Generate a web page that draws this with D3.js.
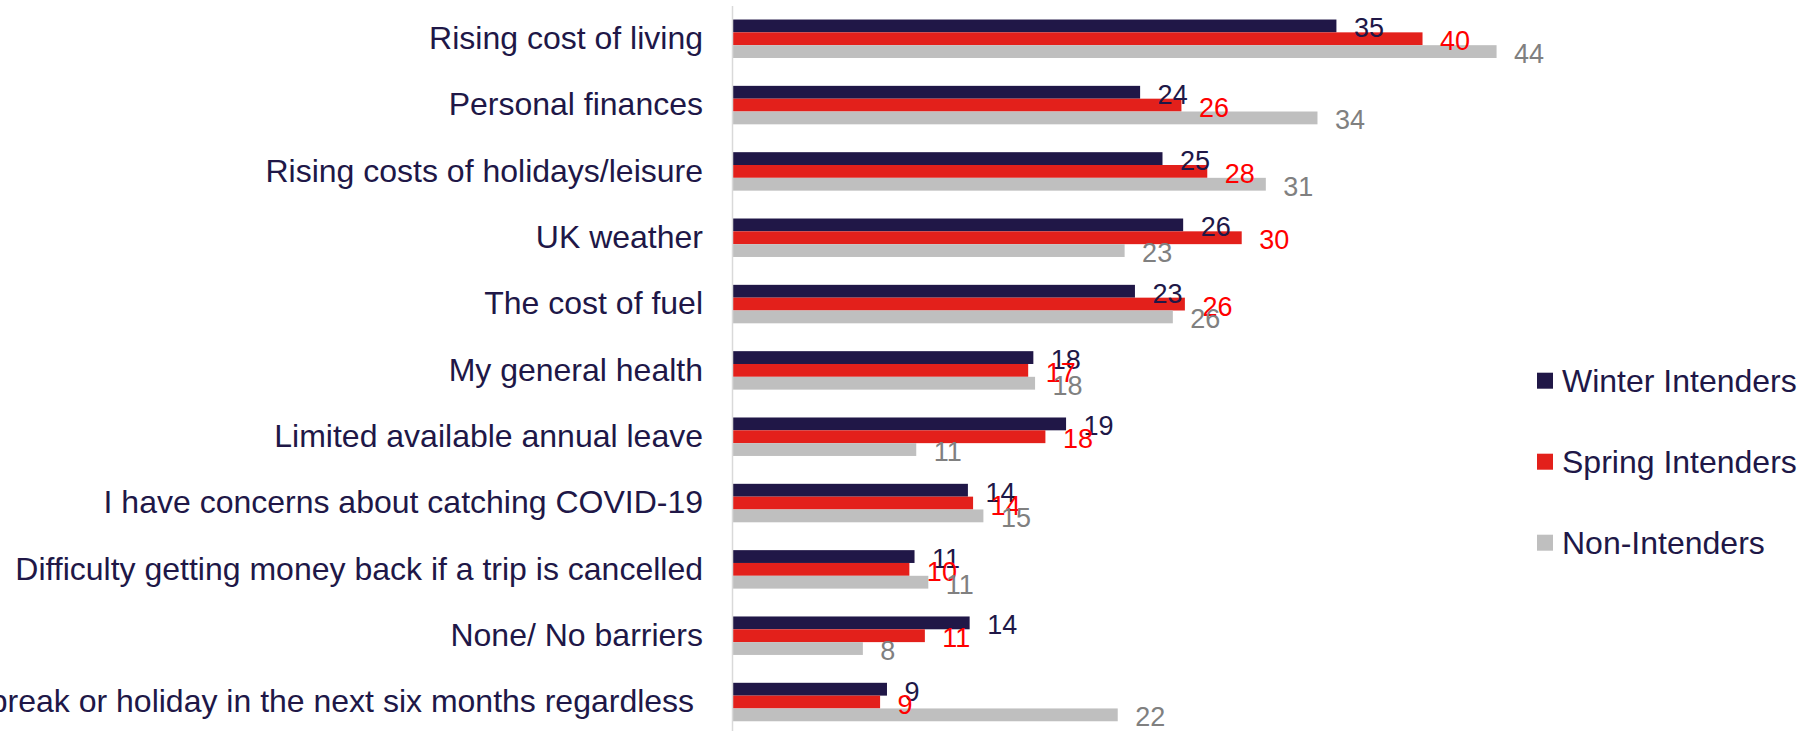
<!DOCTYPE html>
<html>
<head>
<meta charset="utf-8">
<script src="https://cdn.jsdelivr.net/npm/d3@7"></script>
<style>
  body { margin: 0; background: #fff; }
  svg { font-family: "Liberation Sans", Arial, sans-serif; }
</style>
</head>
<body>
<script>
const categories = [
  "Rising cost of living",
  "Personal finances",
  "Rising costs of holidays/leisure",
  "UK weather",
  "The cost of fuel",
  "My general health",
  "Limited available annual leave",
  "I have concerns about catching COVID-19",
  "Difficulty getting money back if a trip is cancelled",
  "None/ No barriers",
  "I will take a break or holiday in the next six months regardless "
];
const seriesNames = ["Winter Intenders", "Spring Intenders", "Non-Intenders"];
const winter = [35.1, 23.7, 25.0, 26.2, 23.4, 17.5, 19.4, 13.7, 10.6, 13.8, 9.0];
const spring = [40.1, 26.1, 27.6, 29.6, 26.3, 17.2, 18.2, 14.0, 10.3, 11.2, 8.6];
const nonInt = [44.4, 34.0, 31.0, 22.8, 25.6, 17.6, 10.7, 14.6, 11.4, 7.6, 22.4];

const barColors = ["#201747", "#e3201b", "#bfbfbf"],
      labelColors = ["#201747", "#ff0000", "#808080"],
      textColor = "#201747";

const W = 1817, H = 731, axisX = 732;

const svg = d3.select("body").append("svg")
  .attr("width", W)
  .attr("height", H);

const x = d3.scaleLinear()
  .domain([0, 50])
  .range([axisX, axisX + 50 * 17.22]);

const y = d3.scaleBand()
  .domain(categories)
  .range([5.6, 735.2])
  .paddingInner(0.42)
  .paddingOuter(0.21);

const sub = d3.scaleBand()
  .domain(seriesNames)
  .range([0, y.bandwidth()]);

const series = [winter, spring, nonInt].map((vals, s) => ({
  name: seriesNames[s],
  color: barColors[s],
  labelColor: labelColors[s],
  values: vals.map((v, i) => ({ cat: categories[i], v: v }))
}));

// bars
const groups = svg.selectAll(".series")
  .data(series)
  .enter().append("g")
  .attr("class", "series")
  .attr("fill", d => d.color);

groups.selectAll("rect")
  .data(d => d.values.map(p => Object.assign({ s: d.name }, p)))
  .enter().append("rect")
  .attr("x", x(0))
  .attr("y", d => y(d.cat) + sub(d.s))
  .attr("width", d => x(d.v) - x(0))
  .attr("height", sub.bandwidth());

// axis with category labels
const yAxis = d3.axisLeft(y)
  .tickSize(0)
  .tickSizeOuter(0)
  .tickPadding(29);

const gy = svg.append("g")
  .attr("transform", "translate(" + axisX + ",0)")
  .call(yAxis);

gy.select(".domain")
  .attr("stroke", "#d9d9d9")
  .attr("stroke-width", 1.5);

gy.selectAll("text")
  .attr("fill", textColor)
  .style("font-size", "32px")
  .style("font-family", "'Liberation Sans', Arial, sans-serif")
  .style("white-space", "pre");

// value labels
const fmt = d3.format(".0f");
series.forEach(sr => {
  svg.append("g")
    .selectAll("text")
    .data(sr.values)
    .enter().append("text")
    .attr("x", d => x(d.v) + 17.5)
    .attr("y", d => y(d.cat) + sub(sr.name) + sub.bandwidth() / 2 + 11.5)
    .attr("fill", sr.labelColor)
    .style("font-size", "27px")
    .text(d => fmt(d.v));
});

// legend
const legend = svg.selectAll(".legend")
  .data(series)
  .enter().append("g")
  .attr("class", "legend")
  .attr("transform", (d, i) => "translate(1537," + (372.7 + i * 81) + ")");

legend.append("rect")
  .attr("width", 16)
  .attr("height", 16)
  .attr("fill", d => d.color);

legend.append("text")
  .attr("x", 25)
  .attr("y", 8)
  .attr("dy", "0.36em")
  .attr("fill", textColor)
  .style("font-size", "32px")
  .text(d => d.name);
</script>
</body>
</html>
